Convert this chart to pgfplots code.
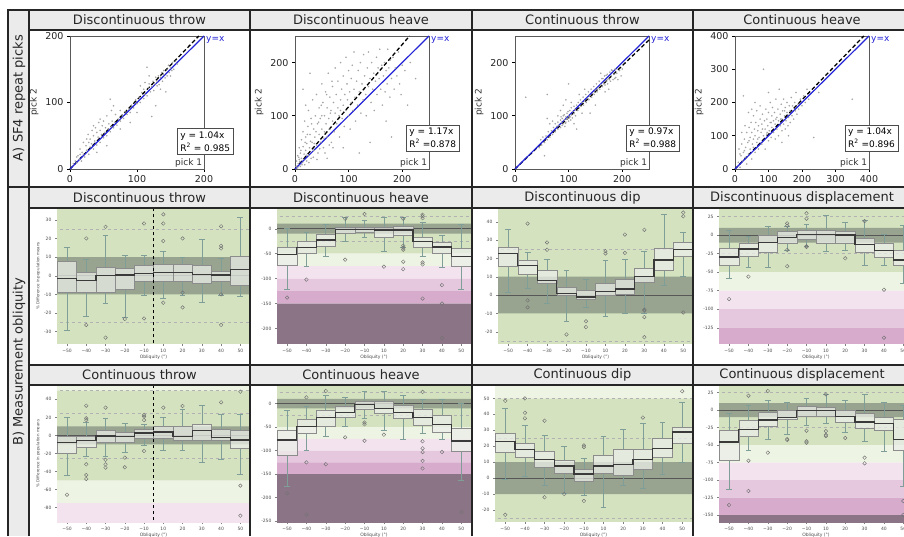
\documentclass[border=0pt]{standalone}
\usepackage{fontspec}
\setmainfont{DejaVu Sans}
\usepackage{pgfplots}
\pgfplotsset{compat=1.18}
\usepgfplotslibrary{statistics}

\definecolor{hdr}{HTML}{EBEBEB}
\definecolor{zgreen}{HTML}{D4E2C0}
\definecolor{zdark}{HTML}{98A48F}
\definecolor{zpale}{HTML}{EEF4E3}
\definecolor{zpinka}{HTML}{F3E3EE}
\definecolor{zpinkb}{HTML}{E6C8DE}
\definecolor{zpinkc}{HTML}{D7ABCC}
\definecolor{zmauve}{HTML}{8C7487}
\definecolor{boxfill}{HTML}{ECEEE9}
\definecolor{boxline}{HTML}{8C8C8C}
\definecolor{whisk}{HTML}{7E9E97}
\definecolor{medline}{HTML}{3A3A3A}
\definecolor{yxblue}{HTML}{2323D8}

\pgfplotsset{
  scat/.style={scale only axis, width=134pt, height=133pt, xmin=0, ymin=0, clip=false,
    axis line style={gray!70!black, line width=0.6pt},
    tick align=outside, xtick pos=left, ytick pos=left, major tick length=3pt,
    tick style={black, line width=0.6pt},
    tick label style={font=\fontsize{9.5}{10}\selectfont, text=black!85},
    /pgf/number format/assume math mode=true,
    ylabel={pick 2}, ylabel style={font=\fontsize{9}{10}\selectfont, text=black!80}},
  pts/.style={only marks, mark=*, mark size=0.6pt, mark options={draw=gray!80, fill=gray!55}, opacity=0.8},
  regr/.style={black, line width=1.3pt, dash pattern=on 4pt off 2.5pt},
  yx/.style={yxblue, line width=1.2pt},
  bx/.style={scale only axis, height=136pt, xmin=-0.52, xmax=9.5,
    xtick={0,...,9}, xticklabels={−50,−40,−30,−20,−10,10,20,30,40,50},
    axis line style={draw=none}, tick align=outside, major tick length=2pt,
    tick style={gray, line width=0.4pt}, xtick pos=left, ytick pos=left,
    tick label style={font=\fontsize{4.5}{5}\selectfont, text=black!70},
    /pgf/number format/assume math mode=true,
    xlabel={Obliquity (°)}, xlabel style={font=\fontsize{4.5}{5}\selectfont, text=black!70, yshift=5pt}},
  pctlabel/.style={ylabel={\% Difference in population means},
    ylabel style={font=\fontsize{4}{5}\selectfont, text=black!70, yshift=-3pt}},
  outl/.style={only marks, mark=o, mark size=1.8pt, mark options={draw=black!55, line width=0.45pt}},
  medl/.style={medline, line width=1.2pt, const plot mark mid},
}

% background zones (percent difference classes)
\newcommand{\zone}[3]{\addplot[draw=none, fill=#1, forget plot] coordinates {(-1,#2) (11,#2) (11,#3) (-1,#3) (-1,#2)};}
\newcommand{\bgzones}{%
  \zone{zgreen}{-50}{50}
  \zone{zpale}{50}{100}
  \zone{zpale}{-75}{-50}
  \zone{zpinka}{-100}{-75}
  \zone{zpinkb}{-125}{-100}
  \zone{zpinkc}{-150}{-125}
  \zone{zmauve}{-300}{-150}
  \zone{zdark}{-10}{10}
  \addplot[gray!60, dashed, line width=0.4pt, forget plot] coordinates {(-1,25) (11,25)};
  \addplot[gray!60, dashed, line width=0.4pt, forget plot] coordinates {(-1,-25) (11,-25)};
  \addplot[gray!60, dashed, line width=0.4pt, forget plot] coordinates {(-1,50) (11,50)};
  \addplot[medline!85, line width=1pt, forget plot] coordinates {(-1,0) (11,0)};
}
% position, lower whisker, q1, median, q3, upper whisker
\newcommand{\bp}[6]{\addplot[forget plot, boxplot/draw direction=y,
  boxplot prepared={draw position=#1, lower whisker=#2, lower quartile=#3,
    median=#4, upper quartile=#5, upper whisker=#6, box extend=1, whisker extend=0.3},
  boxplot/every box/.style={draw=boxline, fill=boxfill, fill opacity=0.75, line width=0.5pt},
  boxplot/every whisker/.style={whisk, line width=0.6pt},
  boxplot/every median/.style={medline, line width=1.2pt}] coordinates {};}

\begin{document}
\begin{tikzpicture}[x=1pt, y=1pt]
\useasboundingbox (0,0) rectangle (904,536);
\clip (0,0) rectangle (904,536);
\fill[white] (0,0) rectangle (904,536);
\fill[hdr] (8,0) rectangle (29,526);
\fill[hdr] (29,506) rectangle (904,526);
\fill[hdr] (29,328) rectangle (904,349);
\fill[hdr] (29,151) rectangle (904,171);

% ===== A) repeat picks =====
\begin{axis}[scat, at={(70pt,367pt)}, xmax=200, ymax=200, xtick={0,100,200}, ytick={0,100,200}]
\addplot[pts] coordinates {(5,8) (8,12) (10,9) (12,20) (14,15) (15,30) (17,12) (18,25) (20,22) (20,40) (22,18) (24,35) (25,28) (27,52) (28,22) (30,45) (30,33) (32,38) (33,58) (35,30) (35,50) (37,42) (38,62) (40,36) (40,55) (42,48) (43,70) (45,40) (45,58) (47,52) (48,65) (50,47) (50,72) (52,55) (53,62) (55,50) (55,80) (57,60) (58,68) (60,56) (60,105) (62,64) (63,72) (65,62) (67,70) (68,82) (70,66) (72,75) (75,72) (75,88) (78,80) (80,76) (82,86) (85,82) (88,90) (90,85) (92,96) (95,92) (98,104) (100,98) (103,108) (105,100) (107,115) (110,106) (110,120) (112,112) (115,110) (115,153) (117,122) (118,128) (120,116) (122,124) (124,132) (125,118) (127,128) (128,138) (130,125) (130,132) (132,140) (133,127) (135,138) (137,145) (138,132) (140,142) (140,148) (142,137) (122,79) (145,150) (145,140) (147,156) (148,145) (150,152) (152,148) (153,160) (155,150) (157,162) (160,158) (143,116) (128,95) (40,25) (55,35) (75,60) (90,70) (100,85) (25,45) (35,65) (45,75) (65,95) (105,125) (112,130) (118,140) (150,140) (135,120) (10,18) (15,22) (28,40) (62,88)};
\addplot[regr] coordinates {(0,0) (192.3,200)};
\addplot[yx] coordinates {(0,0) (200,200)};
\node[anchor=west, text=yxblue, font=\fontsize{9}{10}\selectfont, inner sep=2pt] at (rel axis cs:1,0.97) {y=x};
\node[anchor=south east, text=black!80, font=\fontsize{9}{10}\selectfont, inner sep=1pt] at (rel axis cs:0.995,0.005) {pick 1};
\node[draw=black!70, fill=white, anchor=south west, align=left, font=\fontsize{9}{13}\selectfont, inner sep=3pt] at (rel axis cs:0.80,0.11) {y = 1.04x\\R\textsuperscript{2} = 0.985};
\end{axis}

\begin{axis}[scat, at={(295pt,367pt)}, xmax=250, ymax=250, xtick={0,100,200}, ytick={0,100,200}]
\addplot[pts] coordinates {(2,5) (3,15) (5,3) (5,25) (6,10) (8,40) (8,18) (10,5) (10,30) (12,55) (12,20) (14,12) (15,42) (15,70) (17,28) (18,8) (18,90) (20,35) (20,60) (22,15) (22,48) (24,80) (25,25) (25,110) (27,40) (28,65) (30,20) (30,95) (32,50) (33,130) (35,35) (35,75) (37,60) (38,100) (40,45) (40,140) (42,85) (43,30) (45,65) (45,115) (47,95) (48,50) (50,75) (50,160) (52,125) (53,40) (55,100) (55,70) (57,145) (58,85) (60,60) (60,115) (62,180) (63,95) (65,75) (65,135) (67,110) (68,50) (70,90) (70,155) (72,125) (73,70) (75,105) (75,190) (77,140) (78,85) (80,115) (80,165) (82,100) (83,60) (85,130) (85,200) (87,150) (88,95) (90,120) (90,175) (92,80) (93,140) (95,110) (95,210) (97,160) (98,130) (100,100) (100,185) (102,145) (103,75) (105,125) (105,170) (107,195) (108,110) (110,150) (110,220) (112,135) (113,90) (115,165) (117,120) (118,185) (120,145) (122,200) (123,105) (125,160) (127,130) (128,215) (130,175) (132,140) (133,100) (135,190) (137,155) (137,220) (140,170) (142,125) (143,200) (145,150) (147,180) (148,110) (150,165) (152,210) (153,140) (155,190) (157,170) (158,225) (160,150) (162,195) (163,120) (165,175) (167,200) (168,145) (170,185) (172,160) (173,225) (175,190) (177,135) (178,205) (180,170) (183,210) (185,150) (187,190) (190,175) (193,220) (195,160) (198,140) (200,195) (205,185) (210,120) (215,200) (225,170) (140,50) (120,30) (170,90) (180,60) (60,20) (90,40) (28,180) (85,110) (50,100) (20,120) (15,150) (4,2) (7,22) (9,14) (11,35) (13,8) (16,18) (19,50) (21,26) (23,65) (26,12) (29,52) (31,85) (34,22) (36,48) (39,70) (41,18) (44,88) (46,38) (49,120) (54,58) (56,30) (59,140) (64,45) (66,105) (69,165) (71,40)};
\addplot[regr] coordinates {(0,0) (213.7,250)};
\addplot[yx] coordinates {(0,0) (250,250)};
\node[anchor=west, text=yxblue, font=\fontsize{9}{10}\selectfont, inner sep=2pt] at (rel axis cs:1,0.97) {y=x};
\node[anchor=south east, text=black!80, font=\fontsize{9}{10}\selectfont, inner sep=1pt] at (rel axis cs:0.995,0.005) {pick 1};
\node[draw=black!70, fill=white, anchor=south west, align=left, font=\fontsize{9}{13}\selectfont, inner sep=3pt] at (rel axis cs:0.83,0.135) {y = 1.17x\\R\textsuperscript{2} =0.878};
\end{axis}

\begin{axis}[scat, at={(515pt,367pt)}, xmax=250, ymax=250, xtick={0,100,200}, ytick={0,100,200}]
\addplot[pts] coordinates {(20,135) (45,40) (48,55) (50,45) (52,60) (55,50) (58,62) (60,55) (60,140) (62,70) (65,60) (68,72) (70,65) (72,78) (75,70) (75,85) (78,80) (80,75) (80,88) (82,82) (85,78) (85,92) (87,88) (88,95) (90,85) (90,100) (92,92) (93,80) (95,98) (95,88) (97,105) (98,95) (100,100) (100,90) (102,110) (103,98) (105,102) (105,115) (107,96) (108,108) (110,104) (110,118) (112,112) (113,100) (115,120) (117,110) (118,125) (120,115) (122,130) (123,118) (125,125) (127,135) (128,120) (130,128) (132,140) (133,125) (135,133) (137,145) (138,130) (140,138) (142,150) (143,135) (145,142) (147,155) (148,140) (150,148) (152,160) (153,145) (155,152) (157,165) (158,150) (160,158) (162,170) (163,155) (165,162) (167,175) (168,158) (170,165) (172,178) (173,160) (175,170) (177,182) (178,165) (180,175) (182,185) (183,168) (185,178) (187,188) (188,172) (190,180) (192,168) (195,185) (198,175) (200,188) (168,145) (150,120) (140,105) (95,130) (85,110) (110,85) (125,105) (65,85) (60,95) (100,160) (115,75) (55,25) (175,150) (160,180) (90,120) (105,125) (120,140) (130,150) (80,100) (70,90) (92,102) (96,94) (99,108) (101,96) (94,86) (88,82) (86,98) (104,92) (164,170) (170,176) (176,168) (180,186) (186,170) (166,160) (172,168)};
\addplot[regr] coordinates {(0,0) (250,242.5)};
\addplot[yx] coordinates {(0,0) (250,250)};
\node[anchor=west, text=yxblue, font=\fontsize{9}{10}\selectfont, inner sep=2pt] at (rel axis cs:1,0.97) {y=x};
\node[anchor=south east, text=black!80, font=\fontsize{9}{10}\selectfont, inner sep=1pt] at (rel axis cs:0.995,0.005) {pick 1};
\node[draw=black!70, fill=white, anchor=south west, align=left, font=\fontsize{9}{13}\selectfont, inner sep=3pt] at (rel axis cs:0.83,0.135) {y = 0.97x\\R\textsuperscript{2} =0.988};
\end{axis}

\begin{axis}[scat, at={(735pt,367pt)}, xmax=400, ymax=400, xtick={0,100,...,400}, ytick={0,100,...,400}]
\addplot[pts] coordinates {(10,20) (12,60) (15,5) (18,40) (20,75) (22,25) (25,50) (25,220) (28,90) (30,35) (32,65) (35,110) (35,15) (38,80) (40,45) (42,125) (45,95) (45,60) (48,140) (50,30) (50,110) (52,75) (55,160) (55,90) (58,120) (60,50) (60,100) (62,140) (65,80) (65,175) (68,115) (70,60) (70,130) (72,95) (75,150) (75,190) (78,110) (80,75) (80,135) (82,165) (85,300) (85,100) (88,145) (90,120) (90,60) (92,180) (95,105) (95,150) (98,130) (100,85) (100,170) (102,115) (105,200) (105,140) (108,95) (110,160) (110,125) (112,185) (115,110) (115,145) (118,170) (120,90) (120,135) (122,210) (125,155) (125,120) (128,180) (130,100) (130,145) (132,240) (135,165) (135,130) (138,195) (140,115) (140,150) (142,175) (145,135) (145,210) (148,160) (150,120) (150,185) (152,145) (155,170) (155,200) (158,130) (160,155) (162,190) (165,140) (165,175) (168,215) (170,160) (172,190) (175,150) (178,200) (180,175) (182,230) (185,165) (188,195) (190,180) (195,210) (200,190) (205,220) (210,200) (215,240) (220,210) (235,95) (250,230) (350,210) (30,130) (40,170) (60,200) (100,230) (140,80) (160,100) (20,110) (50,180) (15,45) (28,55) (42,85) (55,65) (68,90) (82,120) (96,110) (108,140) (122,150) (136,150) (148,175) (162,165)};
\addplot[regr] coordinates {(0,0) (384.6,400)};
\addplot[yx] coordinates {(0,0) (400,400)};
\node[anchor=west, text=yxblue, font=\fontsize{9}{10}\selectfont, inner sep=2pt] at (rel axis cs:1,0.97) {y=x};
\node[anchor=south east, text=black!80, font=\fontsize{9}{10}\selectfont, inner sep=1pt] at (rel axis cs:0.995,0.005) {pick 1};
\node[draw=black!70, fill=white, anchor=south west, align=left, font=\fontsize{9}{13}\selectfont, inner sep=3pt] at (rel axis cs:0.82,0.135) {y = 1.04x\\R\textsuperscript{2} =0.896};
\end{axis}

% ===== B) obliquity, discontinuous =====
\begin{axis}[bx, pctlabel, at={(57pt,192pt)}, width=193pt, ymin=-36.6, ymax=36.3, ytick={-30,-20,...,30}]
\bgzones
\bp{0}{-29.5}{-8.6}{-1.3}{7.9}{15}
\bp{1}{-22}{-9}{-2.7}{1.8}{9}
\bp{2}{-15}{-9}{0}{4.3}{21.8}
\bp{3}{-22.5}{-7}{0.4}{4}{11.2}
\bp{4}{-10.4}{-3.2}{1}{5.4}{11}
\bp{5}{-12}{-3.2}{1.8}{6.1}{13}
\bp{6}{-10.7}{-3.2}{1.8}{6.1}{10}
\bp{7}{-14}{-4.1}{0.7}{5.7}{19.5}
\bp{8}{-10.4}{-3.2}{0.4}{2.5}{9.6}
\bp{9}{-10.9}{-5}{3.2}{10.7}{31.3}
\addplot[medl] coordinates {(0,-1.3) (1,-2.7) (2,0) (3,0.4) (4,1) (5,1.8) (6,1.8) (7,0.7) (8,0.4) (9,3.2)};
\addplot[outl] coordinates {(1,20) (1,-26.4) (2,26.2) (2,-33.2) (3,-23.2) (4,28) (4,-22.9) (5,32.9) (5,28) (5,18.6) (5,-14.5) (6,20) (6,-9.1) (6,-17) (8,26.5) (8,16) (8,14.6) (8,-10) (8,-26.4)};
\addplot[black, dashed, line width=0.7pt] coordinates {(4.5,-300) (4.5,300)};
\end{axis}

\begin{axis}[bx, at={(277pt,192pt)}, width=194pt, ymin=-231, ymax=41.5, ytick={-200,-150,...,0}]
\bgzones
\bp{0}{-121}{-73}{-52}{-36.8}{0}
\bp{1}{-76}{-50}{-37}{-26}{-8}
\bp{2}{-56}{-35.5}{-22.7}{-11.4}{9.4}
\bp{3}{-24.8}{-9.4}{-2}{2}{22}
\bp{4}{-17.4}{-8}{-1.3}{3.3}{16}
\bp{5}{-44.8}{-18}{-2.7}{3.3}{23.4}
\bp{6}{-36.8}{-12.7}{-2.7}{4.7}{22.7}
\bp{7}{-56}{-36.8}{-26}{-16.7}{13.4}
\bp{8}{-77}{-50}{-36.8}{-27.4}{-12.7}
\bp{9}{-121}{-76}{-56}{-39.5}{9.4}
\addplot[medl] coordinates {(0,-52) (1,-37) (2,-22.7) (3,-2) (4,-1.3) (5,-2.7) (6,-2.7) (7,-26) (8,-36.8) (9,-56)};
\addplot[outl] coordinates {(0,-138) (1,-102) (3,20) (3,-62) (4,29.4) (5,-76) (6,20) (6,-34) (6,-38) (6,-42) (6,-66) (6,-81) (7,28) (7,25) (7,21) (7,-67.6) (7,-71.6) (7,-140) (8,-113) (8,-150) (8,-219)};
\end{axis}

\begin{axis}[bx, at={(498pt,192pt)}, width=195pt, ymin=-26.7, ymax=47.5, ytick={-20,-10,...,40}]
\bgzones
\bp{0}{1.3}{15.5}{22.5}{26.2}{35.8}
\bp{1}{3.6}{11.3}{16.2}{18.9}{23.5}
\bp{2}{-4.4}{6.4}{7.8}{13.5}{19.6}
\bp{3}{-14.2}{0}{0.7}{4.5}{13.3}
\bp{4}{-6.7}{-2.2}{-1.1}{2.7}{8.7}
\bp{5}{-11.5}{0}{1.8}{6.7}{18.9}
\bp{6}{-10}{0.5}{3.3}{8.5}{19.5}
\bp{7}{-10}{6.9}{10.2}{14.5}{23.6}
\bp{8}{5.5}{13.6}{19.1}{25.5}{44}
\bp{9}{10.5}{20.9}{24.9}{29}{34.5}
\addplot[medl] coordinates {(0,22.5) (1,16.2) (2,7.8) (3,0.7) (4,-1.1) (5,1.8) (6,3.3) (7,10.2) (8,19.1) (9,24.9)};
\addplot[outl] coordinates {(1,39) (1,-2.9) (1,-6.7) (2,28.7) (2,24.7) (3,-21.5) (4,-14.3) (4,-17.5) (5,24) (5,22.7) (6,33) (6,23) (7,35.6) (7,-8) (7,-8.5) (7,-12) (7,-23) (9,45) (9,43) (9,-9.5)};
\end{axis}

\begin{axis}[bx, at={(719pt,192pt)}, width=194pt, ymin=-147, ymax=36.7, ytick={-125,-100,...,25}]
\bgzones
\bp{0}{-58.3}{-40.3}{-29.5}{-17.8}{6.1}
\bp{1}{-43}{-28.6}{-18.7}{-11.5}{-2}
\bp{2}{-43}{-23.2}{-9.7}{0.2}{12.4}
\bp{3}{-20}{-11.5}{-3.4}{4.7}{12}
\bp{4}{-14.6}{-5.2}{1.1}{6.5}{14.2}
\bp{5}{-21.4}{-11}{1.1}{6.5}{26.4}
\bp{6}{-21}{-11}{0.2}{4.7}{17}
\bp{7}{-41.2}{-23.7}{-12.8}{-4.3}{19.6}
\bp{8}{-41.2}{-29.5}{-20.5}{-11}{1.1}
\bp{9}{-65}{-40}{-33.6}{-20}{13.7}
\addplot[medl] coordinates {(0,-29.5) (1,-18.7) (2,-9.7) (3,-3.4) (4,1.1) (5,1.1) (6,0.2) (7,-12.8) (8,-20.5) (9,-33.6)};
\addplot[outl] coordinates {(0,-86.3) (1,-56) (3,16) (3,12.7) (3,-20) (3,-42) (4,29.5) (4,22.3) (4,-15) (4,-16) (6,-31.3) (7,19) (8,-73.7) (8,-138.5)};
\end{axis}

% ===== B) obliquity, continuous =====
\begin{axis}[bx, pctlabel, at={(57pt,14pt)}, width=193pt, height=137pt, ymin=-95.9, ymax=55.9, ytick={-80,-60,...,40}]
\bgzones
\bp{0}{-44.5}{-19.8}{-8}{-0.6}{20}
\bp{1}{-23.5}{-13.2}{-5.4}{-0.6}{15}
\bp{2}{-23.5}{-8}{-0.6}{5.3}{19}
\bp{3}{-19}{-7.3}{-1.4}{3.1}{13.4}
\bp{4}{-10.6}{-3.2}{2.7}{6.8}{12.3}
\bp{5}{-16}{-3.2}{3.8}{9.7}{20}
\bp{6}{-16}{-5}{-1}{9.7}{29}
\bp{7}{-30}{-5}{5.3}{12.3}{33}
\bp{8}{-26}{-5}{-2.1}{6.8}{23.4}
\bp{9}{-42.7}{-14.3}{-5}{6}{23.4}
\addplot[medl] coordinates {(0,-8) (1,-5.4) (2,-0.6) (3,-1.4) (4,2.7) (5,3.8) (6,-1) (7,5.3) (8,-2.1) (9,-5)};
\addplot[outl] coordinates {(0,-65.6) (1,33) (1,19) (1,17) (1,-32) (1,-43.8) (1,-48.2) (2,30.8) (2,-27) (2,-32) (2,-35.7) (3,-24.6) (3,-35.3) (4,22.6) (4,20.8) (4,17) (4,-17.2) (5,30.8) (6,32.6) (8,36.7) (9,48.5) (9,-55.6) (9,-88.9)};
\addplot[black, dashed, line width=0.7pt] coordinates {(4.5,-300) (4.5,300)};
\end{axis}

\begin{axis}[bx, at={(277pt,14pt)}, width=194pt, height=137pt, ymin=-252, ymax=39.8, ytick={-250,-200,...,0}]
\bgzones
\bp{0}{-177}{-110}{-77.4}{-57.5}{-13.5}
\bp{1}{-100}{-63}{-49}{-33.4}{-6.4}
\bp{2}{-69}{-49}{-29}{-13.5}{18.5}
\bp{3}{-49}{-29}{-19}{-6.4}{13.5}
\bp{4}{-31}{-12}{-1.4}{5}{27}
\bp{5}{-56}{-20.6}{-10}{4.3}{25.6}
\bp{6}{-76}{-31}{-19}{-2.8}{17}
\bp{7}{-63}{-45.5}{-29}{-12}{9.2}
\bp{8}{-76}{-60}{-44}{-24}{10}
\bp{9}{-162.6}{-102}{-79.5}{-52.6}{0}
\addplot[medl] coordinates {(0,-77.4) (1,-49) (2,-29) (3,-19) (4,-1.4) (5,-10) (6,-19) (7,-29) (8,-44) (9,-79.5)};
\addplot[outl] coordinates {(0,-191) (1,13.5) (1,-125) (1,-236.5) (2,27) (2,-129) (3,-71.7) (4,-40) (4,-44) (4,-79) (5,-66) (7,25) (7,-80) (7,-95) (7,-103) (7,-122) (7,-138) (8,-103) (9,-231)};
\end{axis}

\begin{axis}[bx, at={(495pt,14pt)}, width=197pt, height=137pt, ymin=-27.5, ymax=58.4, ytick={-20,-10,...,50}]
\bgzones
\bp{0}{-0.6}{16}{22.8}{28}{43.7}
\bp{1}{0.9}{13}{18}{21.8}{32.9}
\bp{2}{-4.5}{6.7}{11.8}{16.6}{26.6}
\bp{3}{-9.2}{3}{7.6}{11.3}{20}
\bp{4}{-10.6}{-2.2}{2.6}{5.5}{12.6}
\bp{5}{-18}{3}{7.6}{14.5}{26}
\bp{6}{-4.3}{2}{8.6}{18}{30.6}
\bp{7}{-6.4}{5.5}{11.8}{18}{34.3}
\bp{8}{2.6}{13.4}{18.6}{25.3}{34.7}
\bp{9}{9.9}{21.8}{28.9}{32.2}{47.3}
\addplot[medl] coordinates {(0,22.8) (1,18) (2,11.8) (3,7.6) (4,2.6) (5,7.6) (6,8.6) (7,11.8) (8,18.6) (9,28.9)};
\addplot[outl] coordinates {(0,48.5) (0,-23) (1,50) (1,41) (1,37.5) (2,36) (2,-12) (3,-10) (4,20.5) (4,19.5) (4,-14.3) (7,38) (9,54.5)};
\end{axis}

\begin{axis}[bx, at={(719pt,14pt)}, width=194pt, height=137pt, ymin=-160, ymax=36, ytick={-150,-125,...,25}]
\bgzones
\bp{0}{-113}{-71.3}{-45.6}{-28.4}{-4.6}
\bp{1}{-58}{-38}{-27.4}{-15}{7.4}
\bp{2}{-41.8}{-22.7}{-14}{-3.6}{13.6}
\bp{3}{-34}{-13}{-10.3}{0.2}{11.2}
\bp{4}{-21.3}{-8.4}{-0.7}{5}{17}
\bp{5}{-18.9}{-9.3}{-0.7}{4}{22.1}
\bp{6}{-32.2}{-18}{-9.3}{0.2}{13.6}
\bp{7}{-45}{-26}{-17}{-4.6}{23}
\bp{8}{-59}{-28.4}{-18.9}{-10.3}{11.2}
\bp{9}{-108.5}{-57}{-41.8}{-13}{7.4}
\addplot[medl] coordinates {(0,-45.6) (1,-27.4) (2,-14) (3,-10.3) (4,-0.7) (5,-0.7) (6,-9.3) (7,-17) (8,-18.9) (9,-41.8)};
\addplot[outl] coordinates {(0,-135.7) (1,20.7) (1,-72.3) (1,-115.7) (2,27.4) (2,-60.8) (3,-41.3) (3,-42.7) (4,-29.4) (4,-44.6) (4,-46.5) (5,22.6) (5,-30) (5,-35.5) (5,-37) (6,-39.8) (7,-68) (7,-76) (9,-130) (9,-150)};
\end{axis}

% ===== frame, headers =====
\begin{scope}[line width=1.2pt, black!85]
\draw (8,0) -- (8,526) -- (904,526);
\draw (29,0) -- (29,526);
\draw (250,0) -- (250,526);
\draw (472,0) -- (472,526);
\draw (693,0) -- (693,526);
\draw (29,506) -- (904,506);
\draw (8,349) -- (904,349);
\draw (29,328) -- (904,328);
\draw (29,171) -- (904,171);
\draw (29,151) -- (904,151);
\end{scope}
\begin{scope}[font=\fontsize{13}{15}\selectfont, text=black!85]
\node at (139.5,516) {Discontinuous throw};
\node at (361,516) {Discontinuous heave};
\node at (582.5,516) {Continuous throw};
\node at (802,516) {Continuous heave};
\node at (139.5,338.5) {Discontinuous throw};
\node at (361,338.5) {Discontinuous heave};
\node at (582.5,338.5) {Discontinuous dip};
\node at (802,338.5) {Discontinuous displacement};
\node at (139.5,161) {Continuous throw};
\node at (361,161) {Continuous heave};
\node at (582.5,161) {Continuous dip};
\node at (802,161) {Continuous displacement};
\node[rotate=90] at (19,438) {A) SF4 repeat picks};
\node[rotate=90] at (19,174) {B) Measurement obliquity};
\end{scope}
\end{tikzpicture}
\end{document}
